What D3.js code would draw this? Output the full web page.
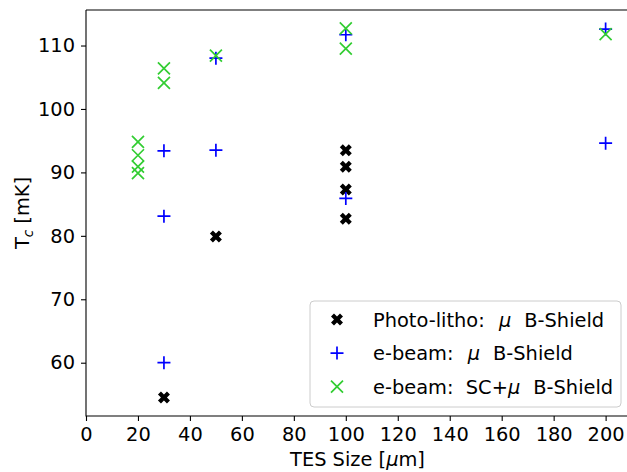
<!DOCTYPE html>
<html>
<head>
<meta charset="utf-8">
<script src="https://cdn.jsdelivr.net/npm/d3@7"></script>
<style>
  html, body { margin: 0; padding: 0; background: #fff; }
  svg { display: block; font-family: "DejaVu Sans", sans-serif; }
  text { white-space: pre; }
</style>
</head>
<body>
<svg id="chart" width="627" height="472"></svg>
<script>
// TES size (um) and Tc (mK) per fabrication / shielding set
const photoSize = [30, 50, 100, 100, 100, 100];
const photoTc = [54.5, 79.9, 93.5, 90.9, 87.3, 82.7];

const ebeamSize = [30, 30, 30, 50, 50, 100, 100, 200, 200];
const ebeamTc = [93.4, 83.1, 60.0, 108.0, 93.5, 111.7, 85.9, 112.6, 94.6];

const scSize = [20, 20, 20, 20, 30, 30, 50, 100, 100, 200];
const scTc = [94.8, 92.7, 90.9, 89.9, 106.4, 104.1, 108.4, 112.7, 109.5, 111.8];

const xTicks = [0, 20, 40, 60, 80, 100, 120, 140, 160, 180, 200];
const yTicks = [60, 70, 80, 90, 100, 110];

const svg = d3.select("#chart");
const plotL = 86, plotT = 10, plotB = 416, plotR = 629;

const x = d3.scaleLinear().domain([0, 209]).range([plotL, plotR]);
const y = d3.scaleLinear().domain([51.6, 115.6]).range([plotB, plotT]);

const fontSize = 19.4;

// axes
const xAxis = svg.append("g")
  .attr("transform", `translate(0,${plotB})`)
  .call(d3.axisBottom(x).tickValues(xTicks).tickSize(5).tickPadding(6));
const yAxis = svg.append("g")
  .attr("transform", `translate(${plotL},0)`)
  .call(d3.axisLeft(y).tickValues(yTicks).tickSize(5).tickPadding(6));

[xAxis, yAxis].forEach(g => {
  g.selectAll("text")
    .attr("font-size", fontSize)
    .attr("font-family", "DejaVu Sans, sans-serif")
    .attr("fill", "#000");
  g.selectAll("line").attr("stroke", "#000").attr("stroke-width", 1.1);
  g.select(".domain").remove();
});

// spines (right one is cut off by the image edge)
svg.append("path")
  .attr("d", `M${plotL},${plotT}H${plotR}M${plotL},${plotT}V${plotB}H${plotR}`)
  .attr("fill", "none")
  .attr("stroke", "#000")
  .attr("stroke-width", 1.1);

// markers
const xMark = d3.symbol().type(d3.symbolCross).size(90);
function plus(g, color) {
  g.append("path").attr("d", "M-6.5,0H6.5M0,-6.5V6.5")
    .attr("stroke", color).attr("stroke-width", 1.7).attr("fill", "none");
}
function cross(g, color) {
  g.append("path").attr("d", "M-6,-6L6,6M-6,6L6,-6")
    .attr("stroke", color).attr("stroke-width", 1.7).attr("fill", "none");
}
function filledX(g, color) {
  g.append("path").attr("d", xMark()).attr("transform", "rotate(45)")
    .attr("fill", color);
}

const marks = svg.append("g");
photoSize.forEach((s, i) => {
  filledX(marks.append("g").attr("transform", `translate(${x(s)},${y(photoTc[i])})`), "#000");
});
ebeamSize.forEach((s, i) => {
  plus(marks.append("g").attr("transform", `translate(${x(s)},${y(ebeamTc[i])})`), "blue");
});
scSize.forEach((s, i) => {
  cross(marks.append("g").attr("transform", `translate(${x(s)},${y(scTc[i])})`), "limegreen");
});

// axis labels
const xlab = svg.append("text")
  .attr("x", (plotL + plotR) / 2).attr("y", 466)
  .attr("text-anchor", "middle")
  .attr("font-size", fontSize);
xlab.append("tspan").text("TES Size [");
xlab.append("tspan").attr("font-style", "italic").text("μ");
xlab.append("tspan").text("m]");

const ylab = svg.append("text")
  .attr("transform", `translate(29,${(plotT + plotB) / 2}) rotate(-90)`)
  .attr("text-anchor", "middle")
  .attr("font-size", fontSize);
ylab.append("tspan").text("T");
ylab.append("tspan").attr("font-size", 13.5).attr("font-style", "italic").attr("dy", 4).text("c");
ylab.append("tspan").attr("dy", -4).text(" [mK]");

// legend
const legend = svg.append("g");
legend.append("rect")
  .attr("x", 310).attr("y", 301).attr("width", 311).attr("height", 106)
  .attr("rx", 4)
  .attr("fill", "#fff").attr("fill-opacity", 0.8)
  .attr("stroke", "#ccc");

const legendItems = [
  { pre: "Photo-litho: ", post: "B-Shield", draw: filledX, color: "#000" },
  { pre: "e-beam: ", post: "B-Shield", draw: plus, color: "blue" },
  { pre: "e-beam:  SC+", post: "B-Shield", draw: cross, color: "limegreen" }
];
legendItems.forEach((d, i) => {
  const cy = 319.5 + i * 33.6;
  d.draw(legend.append("g").attr("transform", `translate(337,${cy})`), d.color);
  const t = legend.append("text")
    .attr("x", 373).attr("y", cy + 7)
    .attr("font-size", fontSize);
  t.append("tspan").text(d.pre);
  t.append("tspan").attr("font-style", "italic").attr("dx", i === 2 ? 0 : 8).text("μ");
  t.append("tspan").attr("dx", 13).text(d.post);
});
</script>
</body>
</html>
